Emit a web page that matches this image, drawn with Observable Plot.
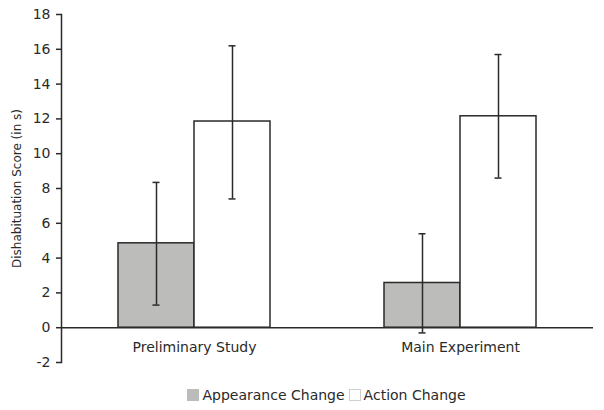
<!DOCTYPE html>
<html>
<head>
<meta charset="utf-8">
<script src="https://cdn.jsdelivr.net/npm/d3@7"></script>
<script src="https://cdn.jsdelivr.net/npm/@observablehq/plot@0.6"></script>
<style>
  body { margin: 0; background: #fff; font-family: "DejaVu Sans", Verdana, sans-serif; }
  #chart { width: 604px; }
  .legend { margin-left: 60px; margin-right: 11px; height: 30px; display: flex; justify-content: center; align-items: center; font-size: 14px; color: #2a2a2a; }
  .legend span.sw { display: inline-block; width: 12px; height: 12px; margin-right: 3px; box-sizing: border-box; }
  .legend span.item { display: inline-flex; align-items: center; margin: 0 2px; }
</style>
</head>
<body>
<div id="chart"></div>
<script>
const categories = ["Preliminary Study", "Main Experiment"];
const series = ["Appearance Change", "Action Change"];
const seriesColors = ["#bcbcba", "#ffffff"];
const appearanceMean = [4.85, 2.57];
const appearanceLow = [1.3, -0.3];
const appearanceHigh = [8.35, 5.4];
const actionMean = [11.85, 12.15];
const actionLow = [7.4, 8.6];
const actionHigh = [16.2, 15.7];
const yTicks = [-2, 0, 2, 4, 6, 8, 10, 12, 14, 16, 18];

const rows = [];
categories.forEach((c, i) => {
  rows.push({study: c, series: series[0], mean: appearanceMean[i], low: appearanceLow[i], high: appearanceHigh[i]});
  rows.push({study: c, series: series[1], mean: actionMean[i], low: actionLow[i], high: actionHigh[i]});
});

const ink = "#2a2a2a";
const plot = Plot.plot({
  width: 604,
  height: 380,
  marginLeft: 60,
  marginRight: 11,
  marginTop: 14,
  marginBottom: 18,
  style: {fontFamily: "'DejaVu Sans', Verdana, sans-serif", fontSize: "14px", color: ink},
  fx: {domain: categories, padding: 0, axis: null},
  x: {domain: series, paddingInner: 0, paddingOuter: 0.73, axis: null},
  y: {domain: [-2, 18], axis: null},
  color: {domain: series, range: seriesColors},
  marks: [
    Plot.barY(rows, {fx: "study", x: "series", y: "mean", fill: "series", stroke: ink, strokeWidth: 1.5}),
    Plot.ruleY([0], {stroke: ink, strokeWidth: 1.5}),
    Plot.ruleX(rows, {fx: "study", x: "series", y1: "low", y2: "high", stroke: ink, strokeWidth: 1.5}),
    Plot.tickY(rows, {fx: "study", x: "series", y: "low", stroke: ink, strokeWidth: 1.5, insetLeft: 34.5, insetRight: 34.5}),
    Plot.tickY(rows, {fx: "study", x: "series", y: "high", stroke: ink, strokeWidth: 1.5, insetLeft: 34.5, insetRight: 34.5}),
    Plot.axisY({ticks: yTicks, tickSize: 5, tickPadding: 6, tickFormat: d => d < 0 ? "-" + Math.abs(d) : String(d), label: null, stroke: ink, strokeWidth: 1.5, fill: ink}),
    Plot.axisY({ticks: [], label: "Dishabituation Score (in s)", labelAnchor: "center", labelArrow: "none", labelOffset: 49, fontSize: 12, fill: ink}),
    Plot.frame({anchor: "left", facetAnchor: "left", stroke: ink, strokeWidth: 1.5}),
    Plot.text(categories, {fx: d => d, text: d => d, frameAnchor: "bottom", dy: -11, fill: ink})
  ]
});
document.getElementById("chart").appendChild(plot);

const legend = document.createElement("div");
legend.className = "legend";
series.forEach((s, i) => {
  const item = document.createElement("span");
  item.className = "item";
  const sw = document.createElement("span");
  sw.className = "sw";
  sw.style.background = seriesColors[i];
  if (i === 1) sw.style.border = "1px solid #d0d0d0";
  item.appendChild(sw);
  item.appendChild(document.createTextNode(s));
  legend.appendChild(item);
});
document.getElementById("chart").appendChild(legend);
</script>
</body>
</html>
